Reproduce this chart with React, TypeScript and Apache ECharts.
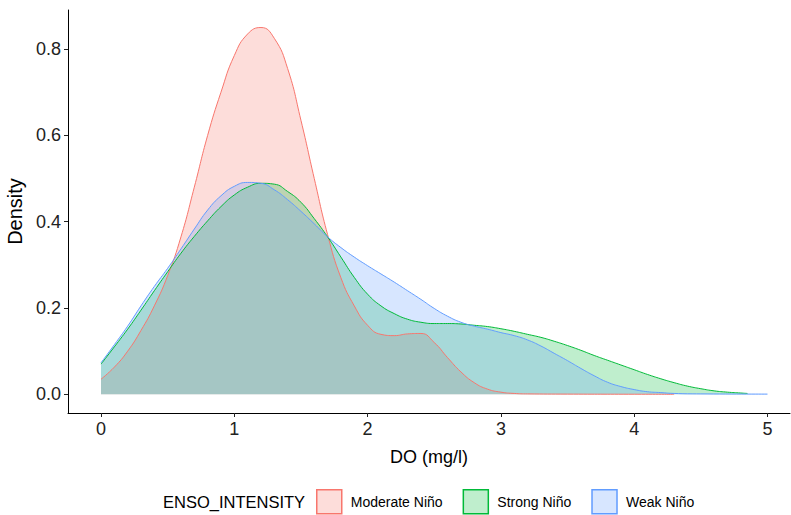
import React, { useEffect, useRef } from "react";
import * as echarts from "echarts";

const seriesNames = ["Moderate Niño", "Strong Niño", "Weak Niño"];
const lineColors = ["#F8766D", "#00BA38", "#619CFF"];
const fillColors = ["rgba(248,118,109,0.25)", "rgba(0,186,56,0.25)", "rgba(97,156,255,0.25)"];

const moderateX = [0, 0.1, 0.2, 0.3, 0.4, 0.5, 0.6, 0.7, 0.8, 0.9, 1.0, 1.1, 1.2, 1.3, 1.4, 1.5, 1.6, 1.7, 1.8, 1.9, 2.0, 2.1, 2.2, 2.3, 2.4, 2.5, 2.6, 2.7, 2.8, 2.9, 3.0, 3.1, 3.2, 3.5, 4.0, 4.3];
const moderateY = [0.035, 0.063, 0.1, 0.148, 0.205, 0.275, 0.365, 0.48, 0.6, 0.7, 0.785, 0.835, 0.85, 0.825, 0.755, 0.635, 0.5, 0.37, 0.27, 0.205, 0.16, 0.139, 0.136, 0.14, 0.141, 0.12, 0.085, 0.052, 0.027, 0.012, 0.005, 0.002, 0.001, 0.0005, 0.0002, 0.0001];

const strongX = [0, 0.1, 0.2, 0.3, 0.4, 0.5, 0.6, 0.7, 0.8, 0.9, 1.0, 1.1, 1.2, 1.3, 1.4, 1.5, 1.6, 1.7, 1.8, 1.9, 2.0, 2.1, 2.2, 2.3, 2.4, 2.5, 2.6, 2.7, 2.8, 2.9, 3.0, 3.1, 3.2, 3.3, 3.4, 3.5, 3.6, 3.7, 3.8, 3.9, 4.0, 4.1, 4.2, 4.3, 4.4, 4.5, 4.6, 4.7, 4.8, 4.85];
const strongY = [0.07, 0.11, 0.151, 0.195, 0.24, 0.284, 0.327, 0.366, 0.402, 0.435, 0.462, 0.48, 0.489, 0.487, 0.47, 0.445, 0.407, 0.365, 0.318, 0.271, 0.232, 0.205, 0.187, 0.174, 0.167, 0.164, 0.164, 0.163, 0.16, 0.157, 0.152, 0.146, 0.139, 0.132, 0.123, 0.113, 0.102, 0.09, 0.079, 0.068, 0.057, 0.046, 0.036, 0.027, 0.019, 0.013, 0.008, 0.005, 0.003, 0.002];

const weakX = [0, 0.1, 0.2, 0.3, 0.4, 0.5, 0.6, 0.7, 0.8, 0.9, 1.0, 1.1, 1.2, 1.3, 1.4, 1.5, 1.6, 1.7, 1.8, 1.9, 2.0, 2.1, 2.2, 2.3, 2.4, 2.5, 2.6, 2.7, 2.8, 2.9, 3.0, 3.1, 3.2, 3.3, 3.4, 3.5, 3.6, 3.7, 3.8, 3.9, 4.0, 4.1, 4.2, 4.3, 4.5, 5.0];
const weakY = [0.073, 0.115, 0.158, 0.205, 0.25, 0.292, 0.337, 0.383, 0.427, 0.46, 0.482, 0.491, 0.489, 0.474, 0.451, 0.424, 0.395, 0.365, 0.34, 0.318, 0.298, 0.279, 0.26, 0.24, 0.22, 0.199, 0.181, 0.167, 0.158, 0.151, 0.143, 0.136, 0.126, 0.112, 0.095, 0.078, 0.06, 0.043, 0.028, 0.018, 0.011, 0.006, 0.004, 0.002, 0.001, 0.0005];

const xTicks = [0, 1, 2, 3, 4, 5];
const yTicks = [0, 0.2, 0.4, 0.6, 0.8];

const FONT = "'Liberation Sans', Arial, sans-serif";

export default function App() {
  const ref = useRef<HTMLDivElement>(null);
  useEffect(() => {
    if (!ref.current) return;
    const chart = echarts.init(ref.current, null, { renderer: "svg" });
    const xs = [moderateX, strongX, weakX];
    const ys = [moderateY, strongY, weakY];
    const series = seriesNames.map((name, i) => ({
      name,
      type: "line",
      data: xs[i].map((x, j) => [x, ys[i][j]]),
      showSymbol: false,
      smooth: 0.5,
      lineStyle: { color: lineColors[i], width: 1 },
      itemStyle: { color: lineColors[i] },
      areaStyle: { color: fillColors[i], opacity: 1, origin: 0 },
    }));
    chart.setOption({
      animation: false,
      backgroundColor: "#ffffff",
      textStyle: { fontFamily: FONT },
      grid: { left: 68, right: 1, top: 10, bottom: 102, containLabel: false, outerBoundsMode: "none" },
      xAxis: {
        type: "value",
        min: -0.2476,
        max: 5.169,
        name: "DO (mg/l)",
        nameLocation: "middle",
        nameGap: 35,
        nameTextStyle: { fontSize: 18, color: "#000", fontFamily: FONT },
        axisLine: { onZero: false, lineStyle: { color: "#000", width: 1 } },
        axisTick: { show: true, length: 4, customValues: xTicks, lineStyle: { color: "#222" } },
        axisLabel: { customValues: xTicks, fontSize: 18, color: "#222", margin: 7, fontFamily: FONT },
        splitLine: { show: false },
      },
      yAxis: {
        type: "value",
        min: -0.0433,
        max: 0.8906,
        name: "Density",
        nameLocation: "middle",
        nameGap: 34,
        nameTextStyle: { fontSize: 20, color: "#000", fontFamily: FONT },
        axisLine: { show: true, onZero: false, lineStyle: { color: "#000", width: 1 } },
        axisTick: { show: true, length: 4, customValues: yTicks, lineStyle: { color: "#222" } },
        axisLabel: {
          customValues: yTicks,
          fontSize: 18,
          color: "#222",
          margin: 7,
          fontFamily: FONT,
          formatter: (v: number) => v.toFixed(1),
        },
        splitLine: { show: false },
      },
      legend: {
        left: 316,
        top: 489,
        padding: 0,
        itemWidth: 25,
        itemHeight: 24,
        itemGap: 20,
        icon: "rect",
        textStyle: { fontSize: 14, color: "#000", fontFamily: FONT, padding: [0, 0, 0, 4] },
        data: seriesNames.map((n, i) => ({
          name: n,
          itemStyle: { color: fillColors[i], borderColor: lineColors[i], borderWidth: 1.5 },
        })),
      },
      graphic: [
        {
          type: "text",
          left: 163,
          top: 493,
          style: { text: "ENSO_INTENSITY", fontSize: 16.5, fill: "#000", fontFamily: FONT },
        },
      ],
      series,
    });
    return () => chart.dispose();
  }, []);
  return (
    <div
      ref={ref}
      style={{ position: "fixed", left: 0, top: 0, width: 791, height: 515, background: "#fff" }}
    />
  );
}
